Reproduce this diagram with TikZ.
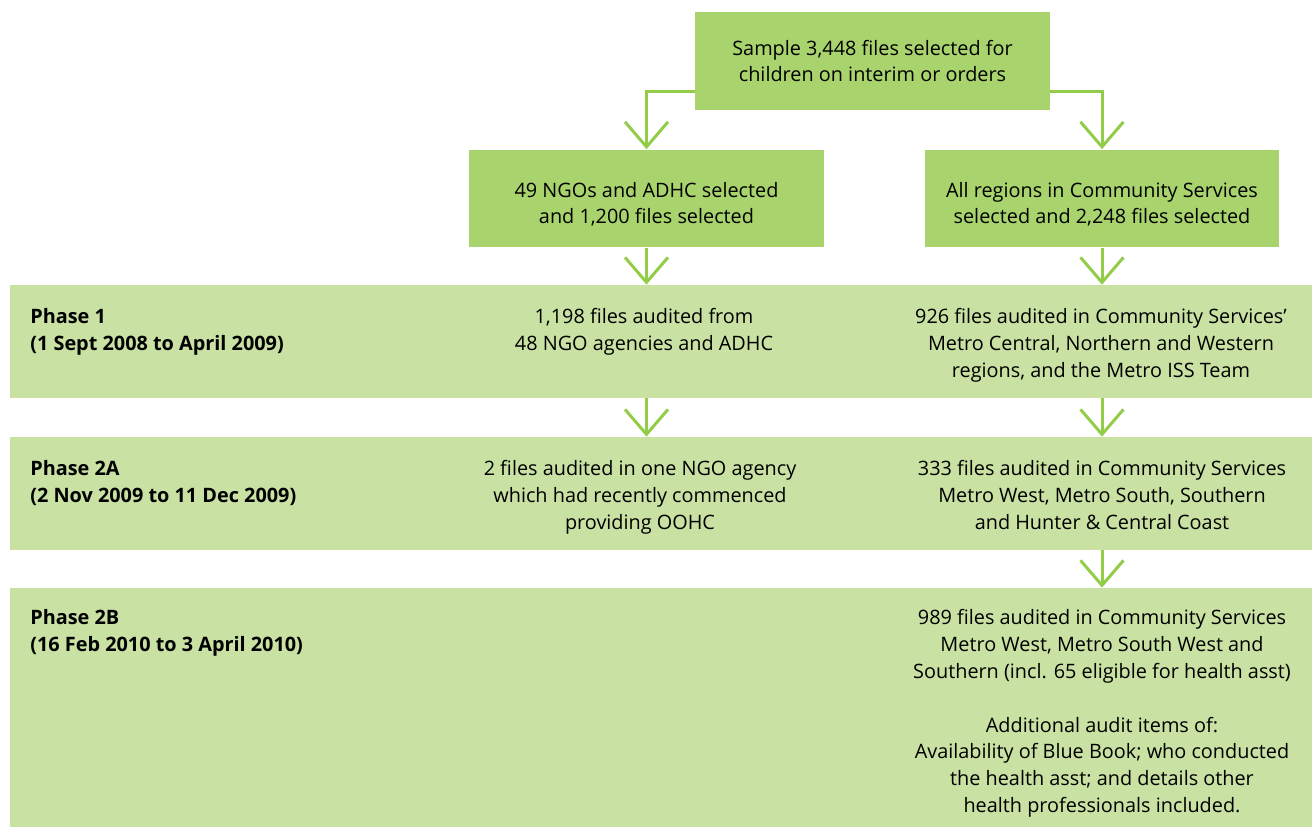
\documentclass[tikz,border=0pt]{standalone}
\usepackage{fontspec}
\setmainfont{Open Sans}
\usetikzlibrary{arrows.meta, positioning}
\definecolor{boxgreen}{HTML}{A9D36C}
\definecolor{bandgreen}{HTML}{C9E1A3}
\definecolor{arrowgreen}{HTML}{92CC48}

\begin{document}
\begin{tikzpicture}[
        x=0.02cm, y=-0.02cm,
        every node/.style={font=\fontsize{11.3}{15.3}\selectfont, align=center, inner sep=0pt},
        box/.style={fill=boxgreen, minimum width=7.1cm, minimum height=1.96cm},
        band/.style={fill=bandgreen, minimum width=26.04cm},
        flow/.style={draw=arrowgreen, line width=1.7pt, -{Straight Barb[length=0.5cm, width=0.86cm]}},
        phaselabel/.style={anchor=north west, align=left, font=\fontsize{11.3}{15.3}\selectfont\bfseries},
        info/.style={anchor=north}
    ]
    \useasboundingbox (0,0) rectangle (1312,827);

    % Bandes des phases
    \node[band, minimum height=2.26cm] (phaseone) at (661,341.5) {};
    \node[band, minimum height=2.26cm] (phasetwoa) at (661,493.5) {};
    \node[band, minimum height=4.78cm] (phasetwob) at (661,707.5) {};

    % Boites de selection
    \node[box] (sample) at (872.5,61) {Sample 3,448 files selected for\\children on interim or orders};
    \node[box, text height=29pt, text depth=0pt] (ngo) at (646.5,198.5) {49 NGOs and ADHC selected\\and 1,200 files selected};
    \node[box, text height=29pt, text depth=0pt] (regions) at (1102,198.5) {All regions in Community Services\\selected and 2,248 files selected};

    % Phase 1
    \node[phaselabel] (labelone) at (30,308) {Phase 1\\(1 Sept 2008 to April 2009)};
    \node[info] (auditngo) at (644,308) {1,198 files audited from\\48 NGO agencies and ADHC};
    \node[info] (auditcs) at (1101,308) {926 files audited in Community Services’\\Metro Central, Northern and Western\\regions, and the Metro ISS Team};

    % Phase 2A
    \node[phaselabel] (labeltwoa) at (30,460) {Phase 2A\\(2 Nov 2009 to 11 Dec 2009)};
    \node[info] (auditagency) at (640,460) {2 files audited in one NGO agency\\which had recently commenced\\providing OOHC};
    \node[info] (auditwest) at (1102,460) {333 files audited in Community Services\\Metro West, Metro South, Southern\\and Hunter \& Central Coast};

    % Phase 2B
    \node[phaselabel] (labeltwob) at (30,609) {Phase 2B\\(16 Feb 2010 to 3 April 2010)};
    \node[info] (auditsouth) at (1102,609) {989 files audited in Community Services\\Metro West, Metro South West and\\Southern (incl. 65 eligible for health asst)\\[15.3pt]
        Additional audit items of:\\Availability of Blue Book; who conducted\\the health asst; and details other\\health professionals included.};

    % Fleches
    \draw[flow] ([yshift=0.38cm]sample.south west) -| (ngo.north);
    \draw[flow] ([yshift=0.38cm]sample.south east) -| (regions.north);
    \draw[flow] (ngo.south) -- (ngo.south |- phaseone.north);
    \draw[flow] (regions.south) -- (regions.south |- phaseone.north);
    \draw[flow] (ngo.south |- phaseone.south) -- (ngo.south |- phasetwoa.north);
    \draw[flow] (regions.south |- phaseone.south) -- (regions.south |- phasetwoa.north);
    \draw[flow] (regions.south |- phasetwoa.south) -- (regions.south |- phasetwob.north);
\end{tikzpicture}
\end{document}
